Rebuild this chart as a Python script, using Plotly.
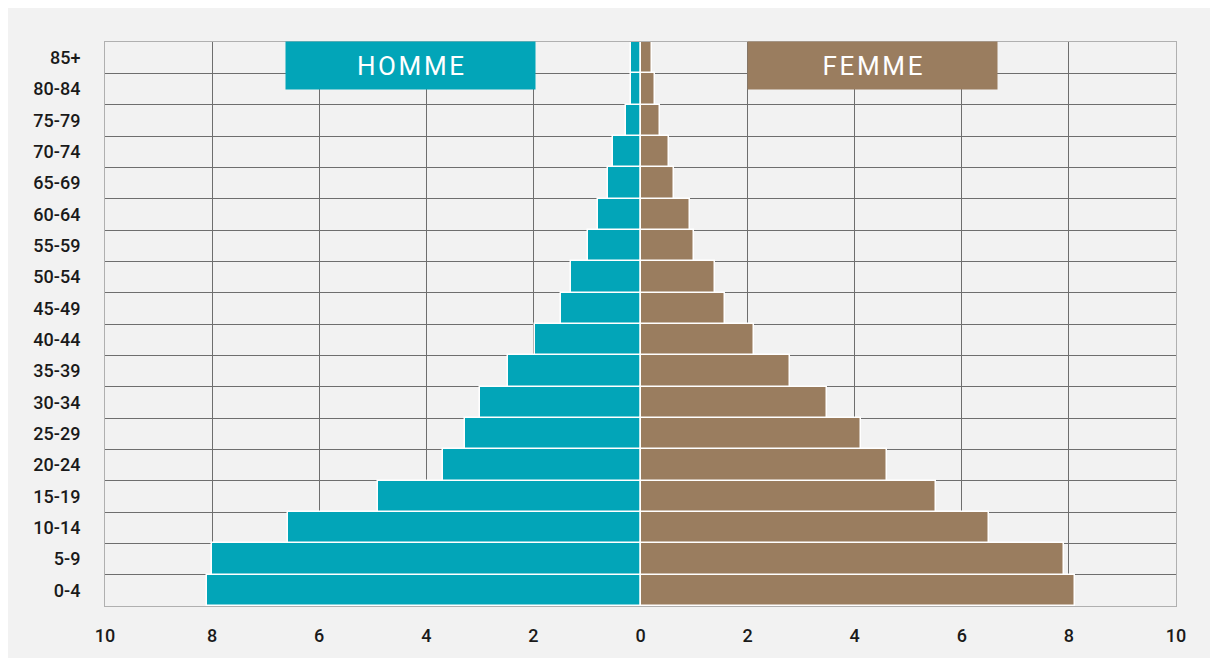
import plotly.graph_objects as go

age_groups = ["0-4", "5-9", "10-14", "15-19", "20-24", "25-29", "30-34", "35-39",
              "40-44", "45-49", "50-54", "55-59", "60-64", "65-69", "70-74",
              "75-79", "80-84", "85+"]
homme = [8.1, 8.0, 6.58, 4.91, 3.68, 3.28, 3.0, 2.48, 1.97, 1.49, 1.30, 0.98,
         0.79, 0.61, 0.51, 0.28, 0.18, 0.18]
femme = [8.11, 7.91, 6.51, 5.51, 4.61, 4.11, 3.49, 2.79, 2.12, 1.58, 1.40, 1.00,
         0.915, 0.62, 0.53, 0.37, 0.28, 0.21]
x_ticks = [-10, -8, -6, -4, -2, 0, 2, 4, 6, 8, 10]

teal = "#02a5b8"
brown = "#9a7d5f"
pos = list(range(len(age_groups)))

fig = go.Figure()
fig.add_trace(go.Bar(y=pos, x=[-v for v in homme], orientation="h", name="HOMME",
                     marker=dict(color=teal, line=dict(color="white", width=1.5)),
                     customdata=homme, hovertemplate="%{customdata}<extra>HOMME</extra>"))
fig.add_trace(go.Bar(y=pos, x=femme, orientation="h", name="FEMME",
                     marker=dict(color=brown, line=dict(color="white", width=1.5)),
                     hovertemplate="%{x}<extra>FEMME</extra>"))

# header boxes for each side
label_font = dict(family="Roboto", size=26, color="white")
fig.add_annotation(x=-4.30, y=16.76, xref="x", yref="y", showarrow=False,
                   text="\u200a".join("HOMME"), font=label_font,
                   bgcolor=teal, width=249, height=47, borderpad=0)
fig.add_annotation(x=4.33, y=16.76, xref="x", yref="y", showarrow=False,
                   text="\u200a".join("FEMME"), font=label_font,
                   bgcolor=brown, width=249, height=47, borderpad=0)

tick_font = dict(family="Roboto", size=18, color="#1a1a1a", weight=500)
# page body adds an 8px white margin, so the figure is 16px smaller than the window
fig.update_layout(
    width=1202, height=650,
    margin=dict(l=97, r=34, t=34, b=46),
    paper_bgcolor="#f2f2f2", plot_bgcolor="#f2f2f2",
    barmode="relative", bargap=0, showlegend=False,
    xaxis=dict(range=[-10, 10], tickvals=x_ticks,
               ticktext=[str(abs(v)) for v in x_ticks],
               showgrid=True, gridcolor="#6e6e6e", gridwidth=1,
               zeroline=False, showline=True, linecolor="#b0b0b0", mirror=True,
               tickfont=tick_font, ticks="", ticklabelstandoff=13),
    yaxis=dict(range=[-0.5, 17.5], tickvals=pos, ticktext=age_groups,
               showgrid=False, zeroline=False,
               minor=dict(tick0=0.5, dtick=1, showgrid=True, gridcolor="#6e6e6e", gridwidth=1),
               showline=True, linecolor="#b0b0b0", mirror=True,
               tickfont=tick_font, ticks="", ticklabelstandoff=20),
)

fig.write_html("out.html")
